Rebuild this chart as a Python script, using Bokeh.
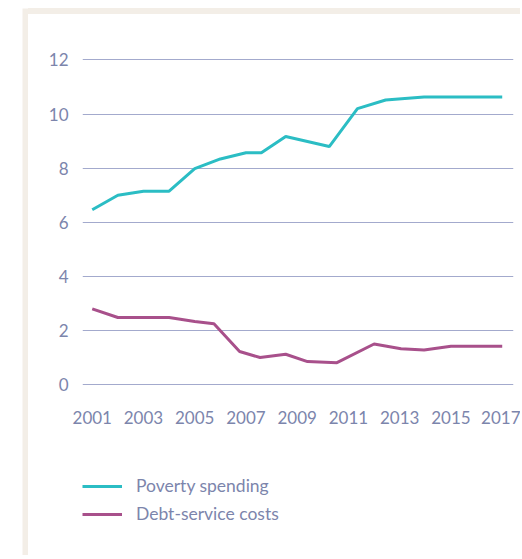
from bokeh.plotting import figure
from bokeh.models import Range1d, FixedTicker, Legend, LegendItem, Spacer, Div
from bokeh.layouts import row, column
from bokeh.embed import file_html
from bokeh.resources import INLINE

# ---- data ----
poverty_years = [2001, 2002, 2003, 2004, 2005, 2006, 2007, 2007.6, 2008.55,
                 2010.25, 2011.35, 2012.45, 2013.95, 2017]
poverty_spending = [6.46, 7.0, 7.15, 7.15, 7.98, 8.34, 8.57, 8.57, 9.17,
                    8.8, 10.2, 10.52, 10.63, 10.63]

debt_years = [2001, 2002, 2003, 2004, 2005, 2005.75, 2006.75, 2007.55, 2008.55,
              2009.4, 2010.55, 2012, 2013.05, 2013.95, 2015, 2017]
debt_service = [2.8, 2.48, 2.48, 2.48, 2.33, 2.25, 1.22, 1.0, 1.12,
                0.85, 0.81, 1.5, 1.32, 1.28, 1.42, 1.42]

x_ticks = [2001, 2003, 2005, 2007, 2009, 2011, 2013, 2015, 2017]
y_ticks = [0, 2, 4, 6, 8, 10, 12]
series_names = ["Poverty spending", "Debt-service costs"]

TEAL = "#2bbdc4"
PURPLE = "#a8508b"
TEXT = "#7c85ac"
GRID = "#a3aacd"
FRAME = "#f3eee7"
FONT = "Lato"

W, H = 520, 555
INNER_W = W - 28


def bar(width, height):
    b = figure(width=width, height=height, output_backend="svg",
               toolbar_location=None, x_axis_type=None, y_axis_type=None,
               min_border=0, background_fill_color=FRAME,
               border_fill_color=FRAME)
    b.outline_line_color = None
    b.grid.grid_line_color = None
    return b


# ---- main chart ----
p = figure(width=INNER_W, height=426, output_backend="svg", toolbar_location=None,
           x_range=Range1d(2000.62, 2017.44), y_range=Range1d(-0.22, 12.72),
           min_border_left=54, min_border_right=7, min_border_top=26,
           min_border_bottom=50)
p.outline_line_color = None
p.background_fill_color = "white"
p.border_fill_color = "white"

p.line(poverty_years, poverty_spending, line_color=TEAL, line_width=3)
p.line(debt_years, debt_service, line_color=PURPLE, line_width=3)

p.xaxis.ticker = FixedTicker(ticks=x_ticks)
p.yaxis.ticker = FixedTicker(ticks=y_ticks)
for ax in (p.xaxis, p.yaxis):
    ax.axis_line_color = None
    ax.major_tick_line_color = None
    ax.minor_tick_line_color = None
    ax.major_label_text_color = TEXT
    ax.major_label_text_font = FONT
    ax.major_label_text_font_size = "17px"
p.xaxis.major_label_standoff = 14
p.yaxis.major_label_standoff = 8

p.xgrid.grid_line_color = None
p.ygrid.grid_line_color = GRID
p.ygrid.grid_line_width = 1

# ---- legend panel ----
lg = figure(width=INNER_W, height=115, output_backend="svg", toolbar_location=None,
            x_axis_type=None, y_axis_type=None, min_border=0,
            x_range=Range1d(0, 1), y_range=Range1d(0, 1))
lg.outline_line_color = None
lg.grid.grid_line_color = None
# keys only: their data sits outside the visible range
l1 = lg.line([5, 6], [5, 6], line_color=TEAL, line_width=3)
l2 = lg.line([5, 6], [5, 6], line_color=PURPLE, line_width=3)
legend = Legend(items=[LegendItem(label=series_names[0], renderers=[l1]),
                       LegendItem(label=series_names[1], renderers=[l2])],
                location=(0, 31), orientation="vertical",
                glyph_width=40, glyph_height=20, label_height=20,
                label_standoff=14, spacing=7, padding=0, margin=0,
                border_line_color=None, background_fill_alpha=0,
                label_text_font=FONT, label_text_font_size="17.5px",
                label_text_color=TEXT)
lg.add_layout(legend, "center")

top_bar = Div(text="", width=INNER_W, height=6, margin=0,
              styles={"background-color": FRAME})

layout = column(
    Spacer(width=W, height=8),
    row(
        Spacer(width=22, height=H - 8),
        bar(6, H - 8),
        column(top_bar, p, lg, spacing=0),
        spacing=0,
    ),
    spacing=0,
)

open("out.html", "w").write(file_html(layout, INLINE))
